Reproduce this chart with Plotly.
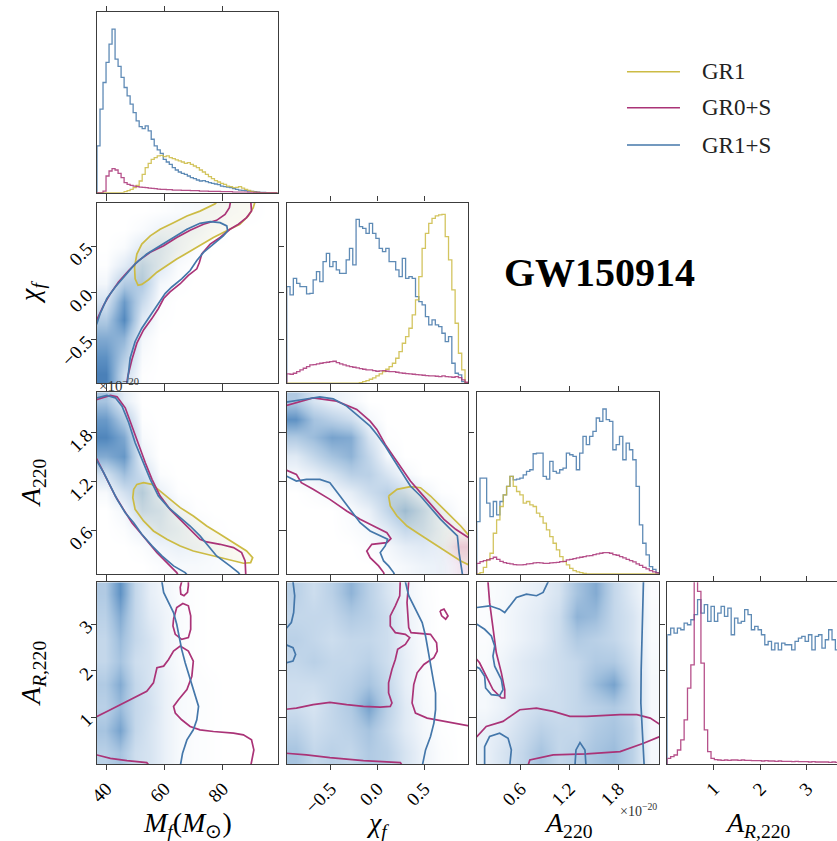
import numpy as np
import plotly.graph_objects as go

# ---------------- series ----------------
SERIES = ["GR1", "GR0+S", "GR1+S"]
COLORS = {"GR1": "#CCBB44", "GR0+S": "#AA3377", "GR1+S": "#4477AA"}

# ---------------- parameter ranges / ticks ----------------
MF_RANGE = [36.8, 98.9]
CHI_RANGE = [-0.97, 0.97]
A_RANGE = [0.065, 2.30]
AR_RANGE = [0.0, 3.9]
AR_VISIBLE = 3.646

MF_TICKS = [40, 60, 80]
CHI_TICKS = [-0.5, 0.0, 0.5]
A_TICKS = [0.6, 1.2, 1.8]
AR_TICKS = [1, 2, 3]

TITLE = "GW150914"
AXIS_LABELS = ["<i>M<sub>f</sub></i>(<i>M</i><sub>⊙</sub>)", "<i>χ<sub>f</sub></i>",
               "<i>A</i><sub>220</sub>", "<i>A</i><sub><i>R</i>,220</sub>"]

# ---------------- 1D histograms (counts per bin) ----------------
mf_hist = {
    "GR1+S": [140, 250, 330, 390, 445, 490, 400, 378, 345, 315, 290, 265, 240, 215, 198,
              192, 200, 185, 160, 140, 128, 118, 100, 92, 85, 75, 68, 62, 58, 55,
              50, 45, 42, 38, 35, 36, 33, 30, 28, 26, 24, 20, 18, 17, 15,
              12, 10, 8, 7, 6, 5, 4, 3, 2, 1, 1, 0, 0, 0, 0],
    "GR1": [0, 0, 0, 0, 0, 0, 0, 0, 0, 3, 6, 10, 15, 22, 35,
            55, 75, 88, 100, 105, 110, 112, 108, 110, 105, 102, 98, 95, 92, 88,
            90, 85, 80, 75, 68, 62, 55, 48, 42, 36, 32, 28, 25, 20, 18,
            15, 16, 18, 14, 10, 7, 4, 2, 1, 0, 0, 0, 0, 0, 0],
    "GR0+S": [0, 0, 5, 50, 65, 72, 68, 58, 45, 30, 25, 22, 20, 18, 17,
              16, 15, 14, 13, 12, 11, 10, 10, 9, 9, 8, 8, 8, 7, 7,
              7, 6, 6, 6, 5, 5, 5, 4, 4, 4, 4, 3, 3, 3, 3,
              2, 2, 2, 2, 2, 1, 1, 1, 1, 0, 0, 0, 0, 0, 0],
}
chi_hist = {
    "GR1+S": [290, 265, 315, 300, 290, 290, 268, 270, 310, 335, 305, 365, 390, 350, 365,
              340, 330, 330, 370, 405, 355, 492, 470, 465, 450, 480, 450, 435, 405, 395,
              405, 365, 365, 340, 320, 375, 315, 320, 315, 260, 245, 235, 200, 175, 190,
              175, 170, 150, 125, 140, 60, 30, 25, 5, 0],
    "GR1": [0] * 22 + [2, 5, 8, 12, 16, 22, 28, 35, 42, 50, 60, 75, 95, 120, 140,
                       165, 205, 250, 320, 405, 450, 480, 495, 502, 505, 507, 440, 370, 280, 180,
                       90, 40, 0],
    "GR0+S": [28, 27, 30, 35, 40, 45, 50, 55, 56, 58, 60, 62, 63, 65, 66,
              62, 58, 55, 52, 50, 48, 46, 44, 42, 40, 40, 38, 36, 37, 38,
              36, 35, 35, 33, 31, 30, 29, 28, 27, 26, 25, 24, 23, 22, 22,
              21, 20, 22, 20, 19, 18, 20, 17, 10, 3],
}
a_hist = {
    "GR1+S": [157, 287, 287, 212, 172, 217, 177, 217, 237, 262, 292, 282, 284, 287, 297,
              307, 312, 360, 362, 362, 292, 284, 337, 307, 302, 312, 317, 362, 357, 352,
              312, 362, 412, 387, 412, 427, 467, 457, 494, 462, 457, 372, 387, 412, 342,
              392, 372, 342, 262, 147, 92, 57, 22, 14, 4],
    "GR1": [0, 4, 20, 42, 62, 122, 162, 202, 237, 262, 292, 262, 247, 237, 212,
            217, 207, 202, 182, 172, 152, 132, 112, 92, 72, 52, 37, 27, 17, 10,
            6, 4, 2] + [0] * 22,
    "GR0+S": [32, 37, 40, 42, 46, 50, 44, 38, 34, 32, 30, 28, 27, 27, 28,
              30, 31, 33, 34, 33, 32, 32, 33, 34, 35, 37, 38, 42, 44, 46,
              48, 50, 52, 54, 55, 58, 60, 62, 64, 64, 62, 58, 56, 52, 48,
              44, 40, 36, 30, 26, 20, 15, 10, 6, 3],
}
ar_hist = {
    "GR1+S": [387, 407, 392, 407, 402, 422, 417, 432, 447, 492, 452, 477, 427, 472, 427,
              452, 472, 442, 467, 387, 437, 422, 427, 462, 447, 402, 412, 402, 387, 357,
              367, 342, 362, 342, 362, 357, 357, 342, 367, 377, 382, 367, 387, 342, 382,
              387, 347, 372, 402, 372, 342, 370, 380, 360],
    "GR0+S": [17, 22, 27, 42, 72, 132, 227, 297, 650, 517, 302, 102, 37, 17, 13,
              12, 11, 12, 11, 12, 12, 11, 12, 11, 11, 10, 10, 10, 9, 10,
              9, 9, 8, 9, 8, 8, 8, 7, 8, 7, 7, 7, 6, 7, 6,
              6, 6, 6, 5, 6, 5, 5, 5, 5],
}
HIST_TOP = [541, 542, 544, 544]

# ---------------- 2D densities of GR1+S (rows: low -> high y) ----------------
dens_mf_chi = [
    [0.85, 0.25, 0.01, 0, 0, 0, 0, 0, 0, 0],
    [0.75, 0.40, 0.03, 0, 0, 0, 0, 0, 0, 0],
    [0.60, 0.55, 0.06, 0, 0, 0, 0, 0, 0, 0],
    [0.40, 0.80, 0.15, 0.01, 0, 0, 0, 0, 0, 0],
    [0.20, 0.70, 0.28, 0.02, 0, 0, 0, 0, 0, 0],
    [0.06, 0.40, 0.40, 0.06, 0.01, 0, 0, 0, 0, 0],
    [0.01, 0.14, 0.32, 0.16, 0.03, 0, 0, 0, 0, 0],
    [0, 0.03, 0.15, 0.18, 0.08, 0.02, 0, 0, 0, 0],
    [0, 0, 0.03, 0.08, 0.09, 0.06, 0.02, 0, 0, 0],
    [0, 0, 0, 0.01, 0.03, 0.04, 0.04, 0.02, 0.01, 0],
]
dens_mf_a = [
    [0, 0, 0, 0.02, 0.04, 0.04, 0.03, 0.01, 0, 0],
    [0, 0, 0.02, 0.07, 0.10, 0.08, 0.04, 0.01, 0, 0],
    [0, 0.02, 0.10, 0.18, 0.12, 0.05, 0.01, 0, 0, 0],
    [0, 0.06, 0.28, 0.22, 0.06, 0.01, 0, 0, 0, 0],
    [0.04, 0.22, 0.38, 0.10, 0.01, 0, 0, 0, 0, 0],
    [0.22, 0.48, 0.25, 0.02, 0, 0, 0, 0, 0, 0],
    [0.60, 0.72, 0.10, 0, 0, 0, 0, 0, 0, 0],
    [0.82, 0.62, 0.04, 0, 0, 0, 0, 0, 0, 0],
    [0.70, 0.38, 0.01, 0, 0, 0, 0, 0, 0, 0],
    [0.45, 0.12, 0, 0, 0, 0, 0, 0, 0, 0],
]
dens_chi_a = [
    [0, 0, 0, 0, 0, 0.02, 0.05, 0.08, 0.10, 0.05],
    [0, 0, 0, 0, 0.02, 0.05, 0.12, 0.15, 0.12, 0.06],
    [0, 0, 0, 0.02, 0.05, 0.15, 0.30, 0.25, 0.12, 0.03],
    [0, 0, 0, 0.03, 0.10, 0.30, 0.50, 0.30, 0.08, 0.01],
    [0, 0.02, 0.05, 0.12, 0.25, 0.35, 0.25, 0.08, 0.01, 0],
    [0.05, 0.10, 0.20, 0.35, 0.35, 0.20, 0.05, 0, 0, 0],
    [0.15, 0.30, 0.45, 0.55, 0.30, 0.05, 0, 0, 0, 0],
    [0.40, 0.50, 0.65, 0.60, 0.20, 0.01, 0, 0, 0, 0],
    [0.75, 0.45, 0.35, 0.25, 0.05, 0, 0, 0, 0, 0],
    [0.40, 0.20, 0.10, 0.05, 0, 0, 0, 0, 0, 0],
]
# GR0+S density where it leaves the GR1+S region (chi_f vs A_220)
dens_chi_a_gr0s = [
    [0, 0, 0, 0, 0, 0, 0, 0, 0.10, 0.45],
    [0, 0, 0, 0, 0, 0, 0, 0, 0.15, 0.70],
    [0, 0, 0, 0, 0, 0, 0, 0, 0.05, 0.25],
    [0, 0, 0, 0, 0, 0, 0, 0, 0, 0],
]
dens_mf_ar = [
    [0.35, 0.45, 0.25, 0.20, 0.10, 0.04, 0.02, 0.01, 0, 0, 0, 0],
    [0.45, 0.65, 0.30, 0.20, 0.10, 0.04, 0.02, 0.01, 0, 0, 0, 0],
    [0.35, 0.50, 0.30, 0.22, 0.10, 0.04, 0.02, 0.01, 0, 0, 0, 0],
    [0.40, 0.60, 0.30, 0.20, 0.10, 0.04, 0.02, 0.01, 0, 0, 0, 0],
    [0.30, 0.45, 0.25, 0.20, 0.08, 0.03, 0.01, 0, 0, 0, 0, 0],
    [0.30, 0.50, 0.30, 0.20, 0.08, 0.03, 0.01, 0, 0, 0, 0, 0],
    [0.35, 0.60, 0.30, 0.15, 0.08, 0.03, 0.01, 0, 0, 0, 0, 0],
    [0.40, 0.75, 0.30, 0.12, 0.06, 0.02, 0.01, 0, 0, 0, 0, 0],
]
dens_chi_ar = [
    [0.45, 0.30, 0.35, 0.30, 0.40, 0.35, 0.20, 0.08, 0.02, 0],
    [0.35, 0.25, 0.30, 0.35, 0.45, 0.30, 0.15, 0.06, 0.01, 0],
    [0.25, 0.20, 0.30, 0.40, 0.65, 0.35, 0.15, 0.05, 0.01, 0],
    [0.25, 0.25, 0.30, 0.35, 0.45, 0.30, 0.12, 0.04, 0, 0],
    [0.30, 0.35, 0.30, 0.30, 0.35, 0.25, 0.12, 0.03, 0, 0],
    [0.35, 0.30, 0.25, 0.30, 0.30, 0.25, 0.10, 0.03, 0, 0],
    [0.30, 0.30, 0.30, 0.40, 0.35, 0.25, 0.10, 0.03, 0, 0],
    [0.35, 0.25, 0.35, 0.55, 0.35, 0.20, 0.08, 0.02, 0, 0],
]
dens_a_ar = [
    [0.10, 0.20, 0.30, 0.45, 0.30, 0.35, 0.45, 0.50, 0.35, 0.05],
    [0.10, 0.15, 0.25, 0.35, 0.30, 0.30, 0.40, 0.45, 0.35, 0.05],
    [0.05, 0.10, 0.20, 0.25, 0.25, 0.30, 0.35, 0.40, 0.30, 0.05],
    [0.05, 0.10, 0.15, 0.20, 0.25, 0.30, 0.50, 0.65, 0.30, 0.05],
    [0.03, 0.08, 0.15, 0.20, 0.25, 0.30, 0.40, 0.40, 0.25, 0.04],
    [0.02, 0.05, 0.10, 0.15, 0.25, 0.40, 0.35, 0.30, 0.20, 0.03],
    [0.02, 0.05, 0.10, 0.15, 0.25, 0.55, 0.50, 0.30, 0.20, 0.03],
    [0.02, 0.04, 0.08, 0.12, 0.20, 0.45, 0.60, 0.30, 0.15, 0.02],
]

# ---------------- 90% credible contours (pieces of [x, y]) ----------------
mfchi_contours = {
    "GR1": [[[78.6, 1.00], [77.4, 0.957], [72.2, 0.879], [67.7, 0.826], [63.1, 0.755], [58.5, 0.684],
             [55.1, 0.613], [52.2, 0.525], [50.5, 0.418], [49.7, 0.277], [49.9, 0.152], [50.9, 0.082],
             [52.2, 0.092], [54.5, 0.142], [57.4, 0.223], [60.8, 0.294], [64.2, 0.365], [68.2, 0.436],
             [72.2, 0.507], [76.8, 0.596], [81.4, 0.667], [85.9, 0.738], [88.8, 0.826], [90.5, 0.915],
             [91.3, 1.00]]],
    "GR0+S": [[[36.0, -0.33], [37.0, -0.273], [39.1, -0.131], [41.4, -0.007], [44.2, 0.117], [47.7, 0.241],
               [51.1, 0.348], [55.1, 0.436], [59.7, 0.507], [64.2, 0.596], [68.8, 0.674], [73.4, 0.738],
               [77.9, 0.780], [80.8, 0.844], [82.3, 0.915], [82.8, 1.00]],
              [[89.6, 1.00], [89.9, 0.879], [88.2, 0.809], [85.4, 0.738], [82.5, 0.684], [79.1, 0.596],
               [75.7, 0.525], [72.8, 0.418], [72.0, 0.330], [71.1, 0.259], [68.2, 0.188], [65.4, 0.099],
               [61.9, 0.011], [59.7, -0.060], [57.9, -0.167], [55.7, -0.273], [52.8, -0.397], [50.5, -0.539],
               [48.8, -0.716], [47.4, -0.894], [46.9, -1.00]]],
    "GR1+S": [[[36.0, -0.38], [36.8, -0.326], [37.9, -0.220], [40.2, -0.060], [43.1, 0.064], [46.5, 0.188],
               [49.9, 0.312], [53.9, 0.418], [58.5, 0.507], [63.1, 0.596], [67.7, 0.684], [72.2, 0.748],
               [75.7, 0.766], [79.1, 0.755], [81.4, 0.720], [81.7, 0.667], [80.2, 0.613], [76.8, 0.525],
               [73.4, 0.436], [71.1, 0.348], [68.8, 0.241], [65.9, 0.152], [62.5, 0.064], [60.2, -0.007],
               [57.9, -0.113], [55.1, -0.238], [52.2, -0.379], [49.9, -0.521], [48.2, -0.699], [47.1, -1.00]]],
}
mfa_contours = {
    "GR1": [[[49.4, 1.106], [50.5, 1.167], [52.8, 1.188], [55.7, 1.167], [58.5, 1.085], [61.9, 0.983],
             [65.4, 0.881], [69.9, 0.778], [74.5, 0.655], [79.1, 0.553], [83.7, 0.451], [88.2, 0.348],
             [90.3, 0.266], [89.6, 0.205], [87.1, 0.197], [83.7, 0.225], [79.1, 0.266], [74.5, 0.307],
             [69.9, 0.348], [65.4, 0.410], [60.8, 0.492], [56.2, 0.594], [52.8, 0.717], [49.9, 0.860],
             [49.1, 1.003], [49.4, 1.106]]],
    "GR0+S": [[[36.0, 2.19], [36.8, 2.211], [41.4, 2.261], [43.7, 2.244], [46.5, 2.109], [48.8, 1.884],
               [51.1, 1.638], [53.4, 1.433], [55.7, 1.229], [58.5, 1.024], [61.9, 0.860], [65.4, 0.737],
               [68.8, 0.614], [72.2, 0.492], [74.5, 0.459], [79.1, 0.430], [83.7, 0.389], [86.5, 0.328],
               [87.7, 0.225], [88.0, 0.00]],
              [[36.0, 1.51], [36.8, 1.474], [38.5, 1.352], [40.8, 1.188], [43.1, 1.024], [45.9, 0.860],
               [48.8, 0.696], [51.7, 0.573], [54.5, 0.451], [57.4, 0.328], [60.8, 0.205], [64.2, 0.082],
               [65.5, 0.00]]],
    "GR1+S": [[[36.0, 2.23], [36.8, 2.232], [40.2, 2.261], [43.1, 2.232], [45.4, 2.130], [47.7, 1.925],
               [49.9, 1.679], [52.2, 1.474], [55.1, 1.229], [57.9, 1.024], [61.4, 0.881], [65.4, 0.758],
               [68.8, 0.655], [72.2, 0.533], [75.1, 0.410], [77.9, 0.287], [82.5, 0.164], [85.4, 0.082],
               [87.0, 0.00]],
              [[36.0, 1.49], [36.8, 1.454], [39.1, 1.311], [41.4, 1.147], [43.7, 0.983], [46.5, 0.819],
               [49.4, 0.696], [52.2, 0.553], [55.7, 0.410], [59.1, 0.287], [63.1, 0.164], [67.1, 0.082],
               [69.0, 0.00]]],
}
chia_contours = {
    "GR1": [[[0.118, 1.024], [0.208, 1.106], [0.351, 1.139], [0.459, 1.126], [0.566, 1.024], [0.674, 0.901],
             [0.781, 0.778], [0.889, 0.655], [0.996, 0.512], [1.02, 0.45], [1.02, 0.20], [0.996, 0.164],
             [0.889, 0.225], [0.746, 0.328], [0.638, 0.410], [0.530, 0.492], [0.423, 0.573], [0.315, 0.655],
             [0.208, 0.778], [0.136, 0.901], [0.118, 1.024]]],
    "GR0+S": [[[-1.00, 2.13], [-0.975, 2.138], [-0.688, 2.232], [-0.437, 2.191], [-0.222, 2.089], [-0.079, 1.945],
               [-0.007, 1.843], [0.082, 1.659], [0.154, 1.536], [0.262, 1.352], [0.351, 1.208], [0.459, 1.065],
               [0.566, 0.922], [0.710, 0.737], [0.835, 0.614], [0.961, 0.512], [1.00, 0.49]],
              [[-1.00, 1.35], [-0.975, 1.343], [-0.867, 1.290], [-0.814, 1.188], [-0.688, 1.106], [-0.509, 0.983],
               [-0.330, 0.840], [-0.186, 0.737], [-0.043, 0.655], [0.100, 0.573], [0.143, 0.500], [0.100, 0.451],
               [-0.061, 0.430], [-0.115, 0.348], [-0.079, 0.266], [0.011, 0.164], [0.065, 0.082], [0.085, 0.00]]],
    "GR1+S": [[[-1.00, 2.17], [-0.975, 2.179], [-0.796, 2.211], [-0.616, 2.244], [-0.473, 2.220], [-0.330, 2.130],
               [-0.204, 2.007], [-0.079, 1.884], [-0.007, 1.781], [0.082, 1.638], [0.172, 1.474], [0.262, 1.311],
               [0.351, 1.147], [0.459, 1.024], [0.566, 0.881], [0.674, 0.737], [0.781, 0.614], [0.853, 0.533],
               [0.871, 0.328], [0.907, 0.082], [0.915, 0.00]],
              [[-1.00, 1.28], [-0.975, 1.270], [-0.867, 1.208], [-0.760, 1.229], [-0.616, 1.229], [-0.509, 1.188],
               [-0.401, 1.024], [-0.294, 0.860], [-0.186, 0.696], [-0.079, 0.594], [0.029, 0.533], [0.108, 0.492],
               [0.082, 0.410], [0.029, 0.328], [0.065, 0.225], [0.118, 0.164], [0.172, 0.082], [0.20, 0.00]]],
}
mfar_contours = {
    "GR0+S": [[[65.9, 4.0], [65.9, 3.914], [65.4, 3.791], [65.6, 3.647], [66.7, 3.612], [67.9, 3.683],
               [68.2, 3.827], [68.2, 4.0]],
              [[63.1, 3.108], [64.2, 3.360], [66.3, 3.446], [68.2, 3.396], [69.0, 3.180], [69.0, 2.892],
               [68.2, 2.712], [65.9, 2.676], [63.7, 2.784], [62.9, 2.964], [63.1, 3.108]],
              [[36.0, 0.98], [36.8, 1.022], [41.4, 1.165], [47.1, 1.345], [51.7, 1.489], [53.9, 1.561],
               [56.2, 1.741], [57.4, 2.065], [59.7, 2.101], [61.4, 2.245], [63.1, 2.424], [65.4, 2.532],
               [68.2, 2.424], [69.9, 2.209], [69.4, 1.885], [67.7, 1.597], [64.8, 1.381], [63.1, 1.237],
               [63.7, 1.094], [65.9, 0.950], [68.8, 0.806], [72.2, 0.734], [76.8, 0.698], [83.7, 0.662],
               [87.1, 0.626], [89.9, 0.518], [90.7, 0.302], [89.6, -0.05]],
              [[36.0, 0.20], [36.8, 0.194], [41.4, 0.122], [47.1, 0.072], [53.9, 0.029], [55.0, -0.05]]],
    "GR1+S": [[[59.1, 4.0], [59.1, 3.914], [59.7, 3.683], [61.4, 3.468], [63.1, 3.252], [64.2, 3.000],
               [65.0, 2.748], [65.9, 2.460], [67.1, 2.173], [68.2, 1.957], [69.4, 1.741], [70.7, 1.453],
               [71.7, 1.237], [71.1, 0.950], [69.9, 0.734], [67.7, 0.518], [66.2, 0.230], [65.4, -0.05]]],
}
chiar_contours = {
    "GR0+S": [[[0.244, 4.0], [0.244, 3.914], [0.237, 3.612], [0.190, 3.396], [0.136, 3.180], [0.136, 2.964],
               [0.190, 2.820], [0.297, 2.784], [0.344, 2.712], [0.297, 2.568], [0.215, 2.460], [0.190, 2.245],
               [0.154, 2.029], [0.118, 1.741], [0.118, 1.525], [0.154, 1.309], [0.136, 1.237], [0.029, 1.223],
               [-0.151, 1.237], [-0.330, 1.273], [-0.509, 1.324], [-0.688, 1.273], [-0.867, 1.201], [-1.00, 1.17]],
              [[0.333, 4.0], [0.333, 3.914], [0.315, 3.468], [0.333, 2.928], [0.358, 2.820], [0.566, 2.784],
               [0.631, 2.604], [0.638, 2.424], [0.602, 2.281], [0.495, 2.137], [0.423, 1.957], [0.387, 1.705],
               [0.369, 1.309], [0.405, 1.094], [0.530, 0.986], [0.674, 0.935], [0.853, 0.863], [1.00, 0.81]],
              [[0.667, 3.288], [0.710, 3.324], [0.753, 3.180], [0.728, 3.108], [0.685, 3.180], [0.667, 3.288]],
              [[-1.00, 0.235], [-0.968, 0.230], [-0.760, 0.194], [-0.509, 0.137], [-0.151, 0.072], [0.244, 0.029],
               [0.27, -0.05]]],
    "GR1+S": [[[-0.903, 4.0], [-0.903, 3.914], [-0.885, 3.612], [-0.896, 3.252], [-0.921, 3.036], [-1.00, 2.85]],
              [[-1.00, 2.58], [-0.903, 2.496], [-0.875, 2.353], [-0.903, 2.209], [-1.00, 2.16]],
              [[0.297, 4.0], [0.297, 3.914], [0.333, 3.612], [0.405, 3.324], [0.477, 3.036], [0.513, 2.748],
               [0.548, 2.317], [0.584, 1.885], [0.620, 1.525], [0.620, 1.165], [0.602, 0.878], [0.566, 0.590],
               [0.513, 0.302], [0.477, -0.05]]],
}
aar_contours = {
    "GR0+S": [[[0.203, 4.0], [0.203, 3.914], [0.223, 3.468], [0.264, 2.892], [0.305, 2.388], [0.367, 1.957],
               [0.408, 1.597], [0.408, 1.417], [0.367, 1.417], [0.264, 1.597], [0.182, 1.885], [0.100, 2.173],
               [0.04, 2.30]],
              [[0.04, 0.56], [0.068, 0.590], [0.182, 0.806], [0.387, 0.914], [0.592, 1.165], [0.797, 1.201],
               [1.001, 1.129], [1.206, 1.022], [1.411, 1.022], [1.616, 1.043], [1.820, 1.058], [2.025, 1.058],
               [2.189, 0.986], [2.35, 0.80]],
              [[0.690, -0.05], [0.715, 0.086], [1.001, 0.194], [1.411, 0.216], [1.820, 0.266], [2.107, 0.446],
               [2.35, 0.62]]],
    "GR1+S": [[[0.04, 3.36], [0.068, 3.360], [0.223, 3.396], [0.346, 3.324], [0.408, 3.252], [0.469, 3.396],
               [0.551, 3.576], [0.674, 3.647], [0.797, 3.612], [0.878, 3.683], [0.940, 3.914], [0.95, 4.0]],
              [[0.04, 3.02], [0.068, 3.000], [0.162, 2.892], [0.244, 2.748], [0.285, 2.532], [0.264, 2.317],
               [0.285, 2.101], [0.367, 1.813], [0.387, 1.597], [0.346, 1.468], [0.244, 1.489], [0.174, 1.633],
               [0.162, 1.885], [0.10, 2.05], [0.04, 2.10]],
              [[0.162, -0.05], [0.162, 0.374], [0.223, 0.590], [0.346, 0.662], [0.449, 0.554], [0.489, 0.302],
               [0.469, -0.05]],
              [[1.267, -0.05], [1.280, 0.302], [1.329, 0.460], [1.390, 0.302], [1.403, -0.05]],
              [[2.107, 4.0], [2.091, 3.108], [2.078, 2.029], [2.074, 1.309], [2.091, 0.734], [2.115, -0.05]]],
}

# ---------------- figure geometry ----------------
COL_DOM = [[0.0, 0.2442], [0.2564, 0.5018], [0.5131, 0.7599], [0.7707, 1.0]]
ROW_DOM = [[0.7597, 1.0], [0.5063, 0.7465], [0.2527, 0.4943], [0.0, 0.2416]]
COL_RANGE = [MF_RANGE, CHI_RANGE, A_RANGE, [AR_RANGE[0], AR_VISIBLE]]
ROW_RANGE = [None, CHI_RANGE, A_RANGE, AR_RANGE]
TICKS = [MF_TICKS, CHI_TICKS, A_TICKS, AR_TICKS]
TICKFMT = ["d", ".1f", ".1f", "d"]
VAR_LIMITS = [MF_RANGE, CHI_RANGE, A_RANGE, AR_RANGE]

FONT = "Liberation Serif"
FRAME = "#3c3c3c"
BLUES = [[0.0, "#ffffff"], [0.12, "#e6eef7"], [0.45, "#a7c4e0"], [0.75, "#5f92c4"], [1.0, "#2a66a6"]]
PINKS = [[0.0, "rgba(255,255,255,0)"], [1.0, "rgba(222,120,170,0.75)"]]

fig = go.Figure()
panel_id = {}
k = 0
for r in range(4):
    for c in range(r + 1):
        k += 1
        panel_id[(r, c)] = k


def axes(k):
    return ("x" if k == 1 else f"x{k}"), ("y" if k == 1 else f"y{k}")


def add_hist(r, edges_range, counts, name):
    xa, ya = axes(panel_id[(r, r)])
    edges = np.linspace(edges_range[0], edges_range[1], len(counts) + 1)
    xs = [edges[0]] + list(edges)
    ys = [0] + list(counts) + [0]
    fig.add_trace(go.Scatter(x=xs, y=ys, mode="lines", line=dict(color=COLORS[name], width=1.3, shape="hv"),
                             opacity=0.85, xaxis=xa, yaxis=ya, showlegend=False, hoverinfo="skip", name=name))


def add_density(r, c, grid, colorscale=BLUES, y_span=None):
    xa, ya = axes(panel_id[(r, c)])
    g = np.array(grid)
    xr = VAR_LIMITS[c]
    yr = y_span if y_span is not None else VAR_LIMITS[r]
    nx, ny = g.shape[1], g.shape[0]
    dx = (xr[1] - xr[0]) / nx
    dy = (yr[1] - yr[0]) / ny
    xc = xr[0] + dx * (np.arange(nx) + 0.5)
    yc = yr[0] + dy * (np.arange(ny) + 0.5)
    fig.add_trace(go.Heatmap(x=xc, y=yc, z=g, zmin=0, zmax=1, zsmooth="best", colorscale=colorscale,
                             showscale=False, hoverinfo="skip", xaxis=xa, yaxis=ya))


def add_contours(r, c, contours):
    xa, ya = axes(panel_id[(r, c)])
    for name in SERIES:
        if name not in contours:
            continue
        for piece in contours[name]:
            px = [p[0] for p in piece]
            py = [p[1] for p in piece]
            if name == "GR1":
                fig.add_trace(go.Scatter(x=px, y=py, mode="lines", fill="toself",
                                         fillcolor="rgba(204,187,68,0.07)", line=dict(width=0),
                                         xaxis=xa, yaxis=ya, showlegend=False, hoverinfo="skip"))
            fig.add_trace(go.Scatter(x=px, y=py, mode="lines", line=dict(color=COLORS[name], width=1.7),
                                     xaxis=xa, yaxis=ya, showlegend=False, hoverinfo="skip", name=name))


# diagonal histograms
for name in ["GR1+S", "GR1", "GR0+S"]:
    if name in mf_hist:
        add_hist(0, MF_RANGE, mf_hist[name], name)
    if name in chi_hist:
        add_hist(1, CHI_RANGE, chi_hist[name], name)
    if name in a_hist:
        add_hist(2, A_RANGE, a_hist[name], name)
    if name in ar_hist:
        add_hist(3, AR_RANGE, ar_hist[name], name)

# off-diagonal densities and contours
add_density(1, 0, dens_mf_chi)
add_contours(1, 0, mfchi_contours)
add_density(2, 0, dens_mf_a)
add_contours(2, 0, mfa_contours)
add_density(2, 1, dens_chi_a)
add_density(2, 1, dens_chi_a_gr0s, colorscale=PINKS, y_span=[A_RANGE[0], 0.96])
add_contours(2, 1, chia_contours)
add_density(3, 0, dens_mf_ar)
add_contours(3, 0, mfar_contours)
add_density(3, 1, dens_chi_ar)
add_contours(3, 1, chiar_contours)
add_density(3, 2, dens_a_ar)
add_contours(3, 2, aar_contours)

layout = dict(
    width=837, height=841,
    margin=dict(l=97, r=0, t=12, b=77),
    paper_bgcolor="white", plot_bgcolor="white",
    font=dict(family=FONT, color="black"),
    showlegend=False,
)
tickfont = dict(family=FONT, size=19, color="black")
for (r, c), k in panel_id.items():
    xkey = "xaxis" if k == 1 else f"xaxis{k}"
    ykey = "yaxis" if k == 1 else f"yaxis{k}"
    xa, ya = axes(k)
    layout[xkey] = dict(
        domain=COL_DOM[c], range=COL_RANGE[c], anchor=ya,
        tickvals=TICKS[c], tickformat=TICKFMT[c], showticklabels=(r == 3),
        ticks="outside", ticklen=5, tickwidth=1, tickcolor=FRAME, mirror="ticks",
        showline=True, linecolor=FRAME, linewidth=1.3, showgrid=False, zeroline=False,
        tickangle=-45, tickfont=tickfont, fixedrange=True,
    )
    if r == c:
        layout[ykey] = dict(
            domain=ROW_DOM[r], range=[0, HIST_TOP[r]], anchor=xa,
            showticklabels=False, ticks="", showline=True, linecolor=FRAME, linewidth=1.3,
            mirror=(r != 3), showgrid=False, zeroline=False, fixedrange=True,
        )
    else:
        layout[ykey] = dict(
            domain=ROW_DOM[r], range=ROW_RANGE[r], anchor=xa,
            tickvals=TICKS[r], tickformat=TICKFMT[r], showticklabels=(c == 0),
            ticks="outside", ticklen=5, tickwidth=1, tickcolor=FRAME, mirror="ticks",
            showline=True, linecolor=FRAME, linewidth=1.3, showgrid=False, zeroline=False,
            tickangle=-45, tickfont=tickfont, fixedrange=True,
        )
fig.update_layout(**layout)

annotations = []
label_font = dict(family=FONT, size=28, color="black")
for c in range(4):
    annotations.append(dict(text=AXIS_LABELS[c], xref="paper", yref="paper",
                            x=(COL_DOM[c][0] + COL_DOM[c][1]) / 2 if c < 3 else COL_DOM[3][0] + 0.1226,
                            y=0, yshift=-60, xanchor="center", yanchor="middle",
                            showarrow=False, font=label_font))
for r in range(1, 4):
    annotations.append(dict(text=AXIS_LABELS[r], xref="paper", yref="paper", x=0, xshift=-65,
                            y=(ROW_DOM[r][0] + ROW_DOM[r][1]) / 2, xanchor="center", yanchor="middle",
                            textangle=-90, showarrow=False, font=label_font))
# offset texts for the amplitude axes
annotations.append(dict(text="×10<sup>−20</sup>", xref="paper", yref="paper", x=0.0, y=0.5045,
                        xanchor="left", yanchor="middle", showarrow=False,
                        font=dict(family=FONT, size=15, color="#333333")))
annotations.append(dict(text="×10<sup>−20</sup>", xref="paper", yref="paper", x=0.7599, y=-0.061,
                        xanchor="right", yanchor="middle", showarrow=False,
                        font=dict(family=FONT, size=14, color="#333333")))
# event name
annotations.append(dict(text=f"<b>{TITLE}</b>", xref="paper", yref="paper", x=0.6797, y=0.653,
                        xanchor="center", yanchor="middle", showarrow=False,
                        font=dict(family=FONT, size=40, color="black")))

# legend
shapes = []
leg_y = [0.9206, 0.8727, 0.8231]
for name, yy in zip(SERIES, leg_y):
    shapes.append(dict(type="line", xref="paper", yref="paper", x0=0.7162, x1=0.7878, y0=yy, y1=yy,
                       line=dict(color=COLORS[name], width=1.6)))
    annotations.append(dict(text=name, xref="paper", yref="paper", x=0.8149, y=yy, xanchor="left",
                            yanchor="middle", showarrow=False, font=dict(family=FONT, size=23, color="#222222")))

fig.update_layout(annotations=annotations, shapes=shapes)
fig.write_html("out.html")
